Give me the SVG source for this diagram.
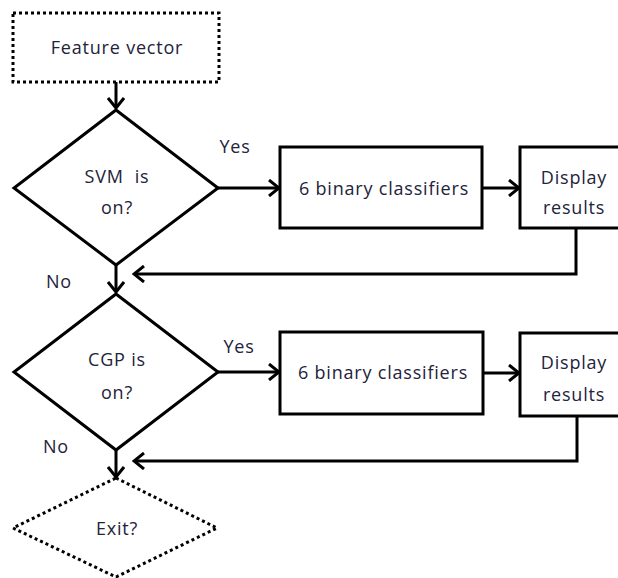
<svg xmlns="http://www.w3.org/2000/svg" width="618" height="578" viewBox="0 0 618 578">
  <style>
    .box { fill: #ffffff; stroke: #000000; stroke-width: 3; }
    .dot { fill: #ffffff; stroke: #000000; stroke-width: 3; stroke-dasharray: 3 3; }
    .lbl { font-family: "Open Sans", "DejaVu Sans", sans-serif; font-size: 18px; letter-spacing: 0.8px; fill: #23233a; text-anchor: middle; }
    .edge { fill: none; stroke: #000000; stroke-width: 3; }
  </style>
  <defs>
    <marker id="arrow" markerUnits="userSpaceOnUse" markerWidth="14" markerHeight="18" viewBox="0 0 14 18" refX="12" refY="9" orient="auto">
      <path d="M2,1 L12,9 L2,17" fill="none" stroke="#000000" stroke-width="3"/>
    </marker>
  </defs>

  <g id="connectors">
    <line class="edge" x1="116" y1="82" x2="116" y2="108" marker-end="url(#arrow)"/>
    <line class="edge" x1="217" y1="188" x2="279" y2="188" marker-end="url(#arrow)"/>
    <line class="edge" x1="482" y1="188" x2="519" y2="188" marker-end="url(#arrow)"/>
    <polyline class="edge" points="576,228 576,274 134,274" marker-end="url(#arrow)"/>
    <line class="edge" x1="116" y1="265" x2="116" y2="292" marker-end="url(#arrow)"/>
    <line class="edge" x1="218" y1="372" x2="279" y2="372" marker-end="url(#arrow)"/>
    <line class="edge" x1="483" y1="373" x2="519" y2="373" marker-end="url(#arrow)"/>
    <polyline class="edge" points="577,416 577,461 134,461" marker-end="url(#arrow)"/>
    <line class="edge" x1="116" y1="450" x2="116" y2="477" marker-end="url(#arrow)"/>
    <text class="lbl" x="235" y="153">Yes</text>
    <text class="lbl" x="59" y="288">No</text>
    <text class="lbl" x="239" y="353">Yes</text>
    <text class="lbl" x="56" y="453">No</text>
  </g>

  <g id="feature-vector">
    <rect class="dot" x="13" y="13" width="206" height="69"/>
    <text class="lbl" x="117" y="54">Feature vector</text>
  </g>

  <g id="svm-decision">
    <polygon class="box" points="116,110 218,188 116,265 14,188"/>
    <text class="lbl" x="117" y="183">SVM&#160; is</text>
    <text class="lbl" x="117" y="214">on?</text>
  </g>

  <g id="svm-classifiers">
    <rect class="box" x="280" y="147" width="202" height="81"/>
    <text class="lbl" x="384" y="195">6 binary classifiers</text>
  </g>

  <g id="svm-display">
    <rect class="box" x="520" y="147" width="102" height="81"/>
    <text class="lbl" x="574" y="184">Display</text>
    <text class="lbl" x="574" y="214">results</text>
  </g>

  <g id="cgp-decision">
    <polygon class="box" points="116,294 218,372 116,450 14,372"/>
    <text class="lbl" x="117" y="366">CGP is</text>
    <text class="lbl" x="117" y="399">on?</text>
  </g>

  <g id="cgp-classifiers">
    <rect class="box" x="280" y="332" width="203" height="82"/>
    <text class="lbl" x="383" y="379">6 binary classifiers</text>
  </g>

  <g id="cgp-display">
    <rect class="box" x="520" y="333" width="102" height="83"/>
    <text class="lbl" x="574" y="369">Display</text>
    <text class="lbl" x="574" y="401">results</text>
  </g>

  <g id="exit-decision">
    <polygon class="dot" points="116,478 217,528 116,577 13,528"/>
    <text class="lbl" x="117" y="535">Exit?</text>
  </g>
</svg>
